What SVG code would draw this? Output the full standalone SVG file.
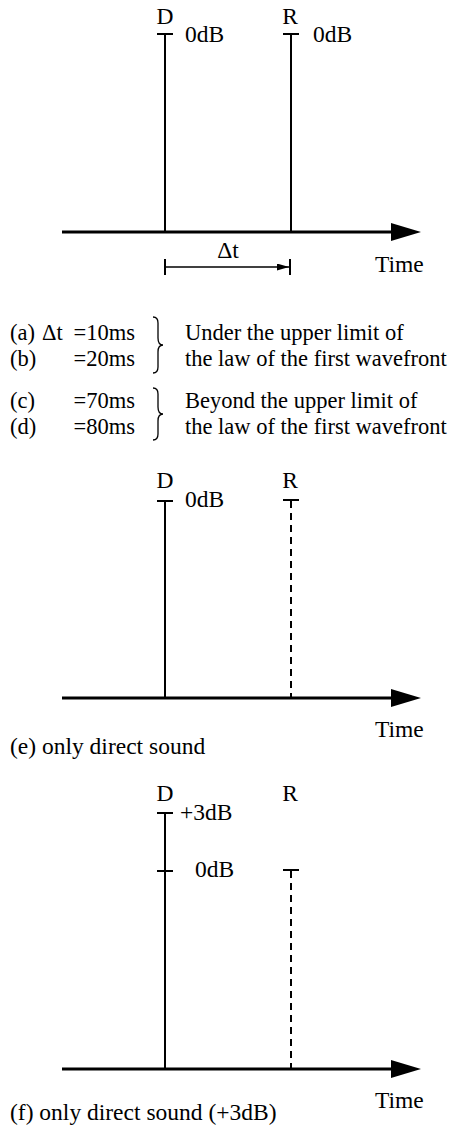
<svg xmlns="http://www.w3.org/2000/svg" width="467" height="1127" viewBox="0 0 467 1127">
<style>
text{font-family:"Liberation Serif","Times New Roman",serif;font-size:23.5px;fill:#000}
.lg{font-size:22.5px}
.ax{stroke:#000;stroke-width:3;fill:none}
.ln{stroke:#000;stroke-width:2;fill:none}
.br{stroke:#000;stroke-width:1.3;fill:none}
.ds{stroke:#000;stroke-width:2;fill:none;stroke-dasharray:7 5}
.c{text-anchor:middle}
.e{text-anchor:end}
</style>
<defs>
<marker id="big" markerWidth="30" markerHeight="18" refX="0" refY="9" orient="auto" markerUnits="userSpaceOnUse"><path d="M0,0 L30,9 L0,18 Z" fill="#000"/></marker>
<marker id="sm" markerWidth="12" markerHeight="7" refX="12" refY="3.5" orient="auto" markerUnits="userSpaceOnUse"><path d="M0,0 L12,3.5 L0,7 Z" fill="#000"/></marker>
</defs>
<g id="connectors">
<line class="ax" x1="62" y1="232" x2="391" y2="232" marker-end="url(#big)"/>
<line class="ax" x1="62" y1="698" x2="391" y2="698" marker-end="url(#big)"/>
<line class="ax" x1="62" y1="1069" x2="391" y2="1069" marker-end="url(#big)"/>
</g>
<g id="panel1">
<g id="p1-D"><line class="ln" x1="165" y1="34" x2="165" y2="232"/><line class="ln" x1="157" y1="34" x2="173" y2="34"/><text class="c" x="165" y="24">D</text><text x="185" y="42">0dB</text></g>
<g id="p1-R"><line class="ln" x1="291" y1="34" x2="291" y2="232"/><line class="ln" x1="283" y1="34" x2="299" y2="34"/><text class="c" x="290" y="24">R</text><text x="313" y="42">0dB</text></g>
<g id="p1-dt"><line class="ln" x1="165" y1="259" x2="165" y2="275"/><line class="ln" x1="290" y1="259" x2="290" y2="275"/><line stroke="#000" stroke-width="1.5" x1="165" y1="267" x2="289" y2="267" marker-end="url(#sm)"/><text class="c" x="228" y="258">Δt</text></g>
<text x="375" y="272">Time</text>
</g>
<g id="legend">
<text class="lg" x="10" y="340">(a)</text><text class="lg" x="42" y="340">Δt</text><text class="lg e" x="135" y="340">=10ms</text>
<text class="lg" x="10" y="366">(b)</text><text class="lg e" x="135" y="366">=20ms</text>
<path class="br" d="M153,317 Q158,317 158,323 L158,338 Q158,345 163,345 Q158,345 158,352 L158,367 Q158,373 153,373"/>
<text class="lg" x="185" y="340">Under the upper limit of</text>
<text class="lg" x="185" y="366">the law of the first wavefront</text>
<text class="lg" x="10" y="408">(c)</text><text class="lg e" x="135" y="408">=70ms</text>
<text class="lg" x="10" y="434">(d)</text><text class="lg e" x="135" y="434">=80ms</text>
<path class="br" d="M153,388 Q158,388 158,394 L158,407 Q158,414 163,414 Q158,414 158,421 L158,434 Q158,440 153,440"/>
<text class="lg" x="185" y="408">Beyond the upper limit of</text>
<text class="lg" x="185" y="434">the law of the first wavefront</text>
</g>
<g id="panel2">
<g id="p2-D"><line class="ln" x1="165" y1="501" x2="165" y2="698"/><line class="ln" x1="157" y1="501" x2="173" y2="501"/><text class="c" x="165" y="488">D</text><text x="185" y="507">0dB</text></g>
<g id="p2-R"><line class="ds" x1="291" y1="501" x2="291" y2="698"/><line class="ln" x1="283" y1="500" x2="299" y2="500"/><text class="c" x="290" y="488">R</text></g>
<text x="375" y="737">Time</text>
<text x="10" y="754">(e) only direct sound</text>
</g>
<g id="panel3">
<g id="p3-D"><line class="ln" x1="165" y1="813" x2="165" y2="1069"/><line class="ln" x1="157" y1="813" x2="173" y2="813"/><line class="ln" x1="157" y1="871" x2="173" y2="871"/><text class="c" x="165" y="801">D</text><text x="180" y="820">+3dB</text><text x="195" y="877">0dB</text></g>
<g id="p3-R"><line class="ds" x1="291" y1="871" x2="291" y2="1069"/><line class="ln" x1="283" y1="870" x2="299" y2="870"/><text class="c" x="290" y="801">R</text></g>
<text x="375" y="1108">Time</text>
<text x="10" y="1120">(f) only direct sound (+3dB)</text>
</g>
</svg>
